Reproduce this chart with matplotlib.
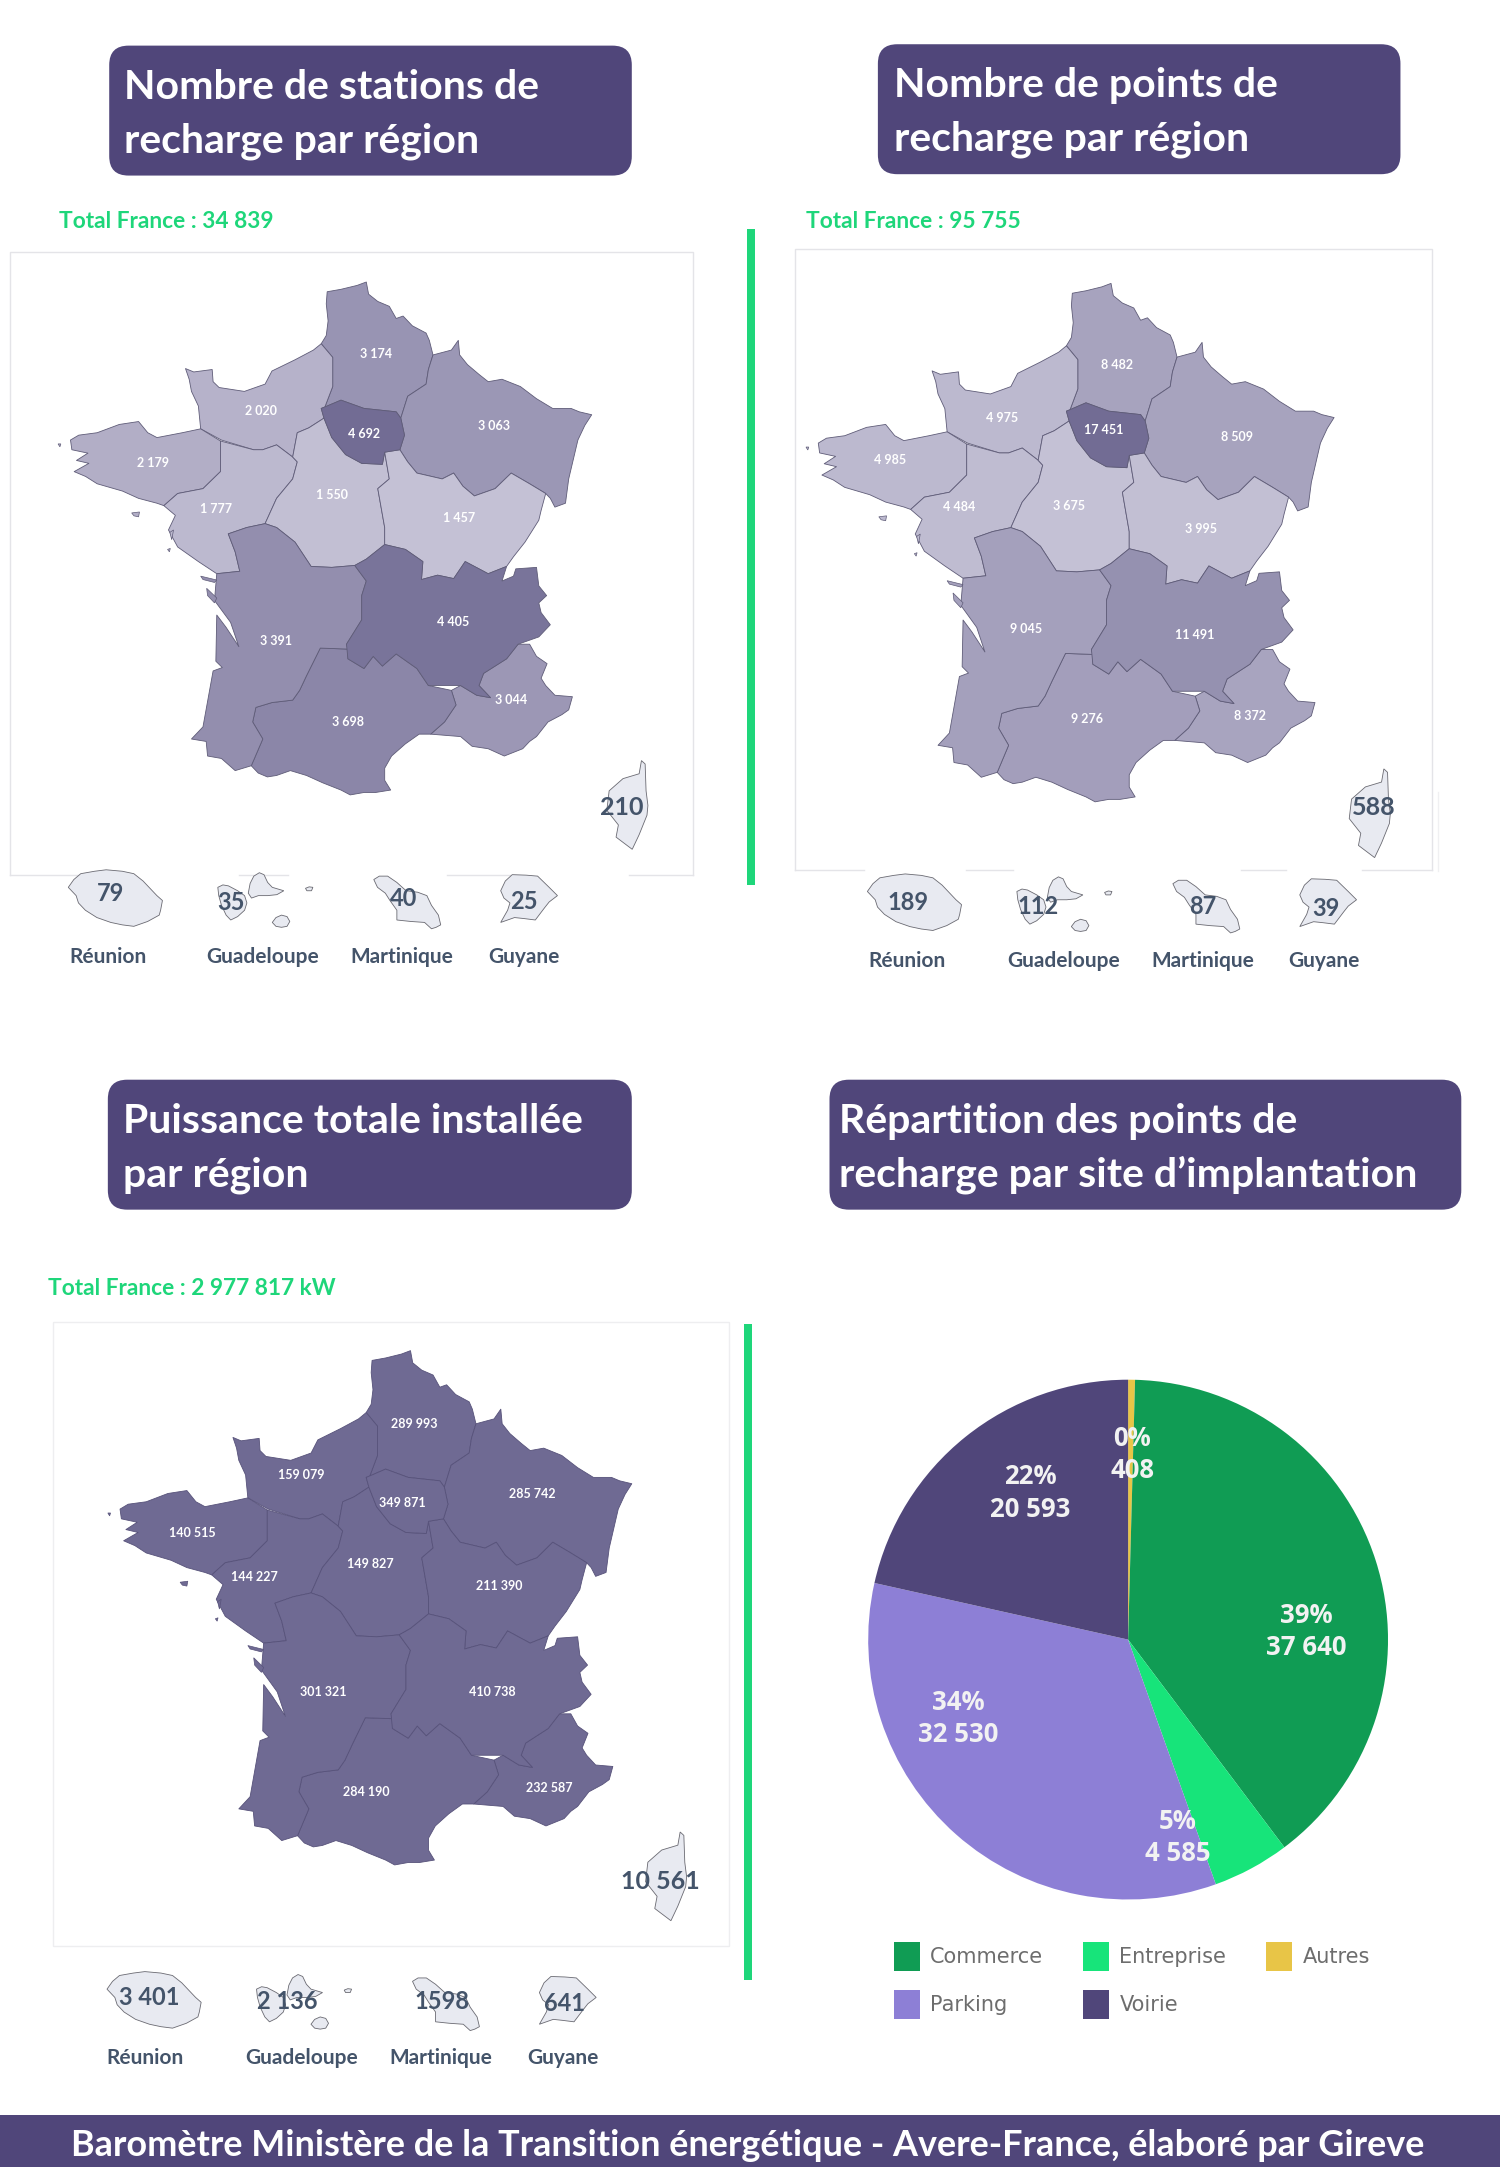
import numpy as np
import matplotlib
matplotlib.use('Agg')
import matplotlib.pyplot as plt
from matplotlib.patches import FancyBboxPatch, Polygon, Rectangle

plt.rcParams['font.family'] = ['Lato', 'DejaVu Sans']

#region outlines (tracing units, same for the three maps)
hauts = [(795,85),(775,92),(740,100),(710,105),(708,130),(712,165),(708,195),(697,212),(722,240),(722,300),(705,342),(740,328),(790,345),(860,352),(870,365),(885,320),(925,295),(930,265),(940,235),(932,205),(925,190),(895,175),(875,155),(860,160),(845,135),(820,125),(800,110)]
grand_est = [(940,235),(930,265),(925,295),(885,320),(870,365),(878,400),(868,430),(885,455),(905,478),(960,490),(985,478),(1005,505),(1030,525),(1075,510),(1110,478),(1150,500),(1185,520),(1195,530),(1205,548),(1228,540),(1235,490),(1245,450),(1255,410),(1270,380),(1285,358),(1258,352),(1240,345),(1200,345),(1165,325),(1130,300),(1090,285),(1060,290),(1040,275),(1015,255),(998,235),(995,205),(980,225)]
idf = [(697,345),(705,342),(740,328),(790,345),(860,352),(870,365),(878,400),(868,430),(835,435),(830,460),(785,458),(750,440),(720,405),(703,365)]
normandie = [(402,263),(420,270),(460,265),(462,290),(475,302),(530,310),(575,295),(590,268),(640,245),(680,225),(697,212),(722,240),(722,300),(705,342),(697,345),(703,365),(670,385),(645,395),(635,445),(600,420),(570,430),(550,430),(480,410),(435,387),(430,340),(415,310),(410,285)]
bretagne = [(152,410),(170,400),(210,395),(258,378),(300,372),(320,395),(340,405),(395,395),(435,387),(478,412),(478,475),(440,510),(385,520),(355,545),(340,540),(300,530),(265,515),(210,500),(185,485),(160,475),(192,458),(165,452),(190,437),(155,430)]
loire = [(355,545),(385,520),(440,510),(478,475),(478,412),(550,430),(570,430),(600,420),(635,445),(645,455),(635,490),(600,530),(575,582),(535,590),(495,603),(510,640),(520,680),(470,685),(430,660),(385,630),(365,595),(380,565)]
centre = [(645,395),(670,385),(703,365),(720,405),(750,440),(785,458),(830,460),(835,435),(845,490),(820,510),(835,590),(835,625),(795,655),(770,668),(720,672),(675,670),(640,620),(600,590),(575,582),(600,530),(635,490),(645,455),(635,445)]
bourgogne = [(835,435),(868,430),(885,455),(905,478),(960,490),(985,478),(1005,505),(1030,525),(1075,510),(1110,478),(1150,500),(1185,520),(1175,555),(1170,575),(1140,620),(1115,650),(1100,670),(1060,685),(1010,660),(985,695),(950,688),(915,697),(918,660),(880,635),(835,625),(835,590),(820,510),(845,490)]
ara = [(770,668),(795,655),(835,625),(880,635),(918,660),(915,697),(950,688),(985,695),(1010,660),(1060,685),(1100,670),(1090,700),(1115,690),(1120,675),(1165,672),(1170,710),(1187,730),(1170,745),(1175,765),(1195,790),(1170,815),(1125,830),(1100,860),(1050,890),(1040,915),(1065,940),(1035,935),(1000,915),(930,915),(905,880),(860,850),(830,875),(810,855),(790,880),(755,860),(752,830),(785,780),(785,730),(795,700)]
paca = [(1125,830),(1150,830),(1165,855),(1188,870),(1175,900),(1185,915),(1205,935),(1243,938),(1235,965),(1220,975),(1190,990),(1165,1020),(1150,1030),(1135,1045),(1095,1060),(1060,1045),(1025,1040),(1000,1020),(935,1015),(965,990),(990,955),(980,925),(1000,915),(1035,935),(1065,940),(1040,915),(1050,890),(1100,860)]
occitanie = [(695,838),(755,840),(755,860),(790,880),(810,855),(830,875),(860,850),(905,880),(930,915),(980,925),(990,955),(965,990),(935,1015),(910,1015),(880,1035),(850,1060),(835,1085),(835,1110),(848,1130),(815,1135),(790,1135),(760,1140),(740,1130),(700,1115),(665,1100),(630,1090),(600,1100),(580,1103),(560,1095),(545,1080),(570,1025),(548,990),(555,960),(590,950),(635,945),(650,925),(665,895)]
aquitaine = [(495,603),(535,590),(575,582),(600,590),(640,620),(675,670),(720,672),(770,668),(795,700),(785,730),(785,780),(752,830),(755,840),(695,838),(665,895),(650,925),(635,945),(590,950),(555,960),(548,990),(570,1025),(545,1080),(510,1090),(480,1065),(450,1060),(447,1030),(415,1025),(440,1000),(462,885),(482,878),(468,865),(470,770),(490,795),(518,835),(500,785),(465,740),(470,685),(520,680),(510,640)]
regions = [hauts, grand_est, normandie, bretagne, loire, centre, bourgogne, paca, occitanie, aquitaine, ara, idf]

# small islands, with the index of their region in regions
iles = [
    (3, [(125,418),(131,418),(129,424)]),
    (3, [(285,560),(302,558),(300,568),(290,566)]),
    (4, [(368,600),(376,595),(372,615)]),
    (4, [(363,635),(369,633),(367,640)]),
    (9, [(435,690),(470,698),(465,703),(440,697)]),
    (9, [(448,715),(470,735),(465,745),(450,730)]),
]

corse = [(1390,1068),(1398,1075),(1400,1130),(1404,1160),(1402,1180),(1385,1220),(1370,1250),(1335,1225),(1340,1200),(1315,1170),(1320,1130),(1350,1105),(1385,1095)]
reunion = [(148,1328),(160,1312),(175,1300),(205,1295),(230,1292),(265,1295),(290,1300),(310,1315),(320,1325),(340,1345),(352,1355),(348,1375),(345,1385),(320,1398),(290,1408),(265,1405),(240,1400),(210,1390),(185,1375),(170,1360),(165,1345)]
guadeloupe = [
    [(472,1328),(483,1323),(495,1325),(515,1335),(530,1345),(535,1360),(530,1375),(515,1388),(500,1395),(490,1385),(480,1365),(474,1345)],
    [(538,1340),(542,1320),(550,1305),(562,1298),(572,1302),(580,1318),(590,1328),(615,1335),(600,1343),(580,1345),(560,1345),(545,1350)],
    [(590,1400),(598,1390),(610,1385),(622,1388),(628,1398),(622,1408),(610,1410),(598,1408)],
    [(662,1330),(670,1327),(678,1328),(675,1335),(665,1335)],
]
martinique = [(810,1312),(822,1305),(840,1305),(860,1318),(880,1335),(905,1338),(925,1345),(935,1365),(950,1385),(955,1405),(945,1410),(935,1413),(920,1400),(890,1398),(860,1395),(860,1375),(845,1355),(835,1340),(818,1328)]
guyane = [(1085,1335),(1095,1315),(1110,1302),(1140,1303),(1165,1305),(1190,1328),(1208,1345),(1190,1358),(1180,1370),(1160,1395),(1135,1392),(1115,1390),(1085,1400),(1100,1375),(1105,1360),(1092,1350)]
overseas = [[reunion], guadeloupe, [martinique], [guyane]]

# values, same order as regions
stations = [3174, 3063, 2020, 2179, 1777, 1550, 1457, 3044, 3698, 3391, 4405, 4692]
points = [8482, 8509, 4975, 4985, 4484, 3675, 3995, 8372, 9276, 9045, 11491, 17451]
puissance = [289993, 285742, 159079, 140515, 144227, 149827, 211390, 232587, 284190, 301321, 410738, 349871]

outre_names = ['Réunion', 'Guadeloupe', 'Martinique', 'Guyane']
stations_outre = ['79', '35', '40', '25']
points_outre = ['189', '112', '87', '39']
puissance_outre = ['3 401', '2 136', '1598', '641']

pie_labels = ['Autres', 'Commerce', 'Entreprise', 'Parking', 'Voirie']
pie_values = [408, 37640, 4585, 32530, 20593]
pie_pct = ['0%', '39%', '5%', '34%', '22%']
pie_colors = ['#e8c547', '#109c54', '#17e47a', '#8d7fd6', '#50467a']

# label anchors, in preview pixels (1085 wide)
pos1 = [(272,256),(357,308),(189,297),(111,335),(156,368),(240,358),(332,375),(370,506),(252,522),(200,464),(328,450),(263,314)]
pos2 = [(808,264),(895,316),(725,302),(644,333),(694,367),(773,366),(869,383),(904,518),(786,520),(742,455),(864,459),(798,311)]
pos3 = [(300,1030),(385,1081),(218,1067),(139,1109),(184,1141),(268,1131),(361,1147),(397,1293),(265,1296),(234,1224),(356,1224),(291,1087)]
pie_pos = [(819,1052),(945,1180),(852,1329),(693,1243),(745,1080)]

PURPLE = '#50467a'
GREEN = '#1ed67a'
SLATE = '#44546a'
LOW = np.array([0xc4, 0xc1, 0xd5]) / 255
HIGH = np.array([0x72, 0x6c, 0x94]) / 255


def fmt(v):
    return f'{v:,}'.replace(',', ' ')


def shade(vals):
    vals = np.array(vals, dtype=float)
    t = (vals - vals.min()) / (vals.max() - vals.min())
    return [LOW + (HIGH - LOW) * a for a in t]


fig = plt.figure(figsize=(15, 21.67), dpi=100)
ax = fig.add_axes([0, 0, 1, 1])
ax.set_xlim(0, 1085)
ax.set_ylim(1567.5, 0)
ax.axis('off')


def title_box(x0, y0, x1, y1, lines, tx):
    r = 14
    ax.add_patch(FancyBboxPatch((x0 + r, y0 + r), x1 - x0 - 2 * r, y1 - y0 - 2 * r,
                                boxstyle=f'round,pad={r},rounding_size={r}', fc=PURPLE, ec='none'))
    ax.text(tx, y0 + 30, lines[0], color='white', fontsize=29.5, fontweight='bold', va='center')
    ax.text(tx, y0 + 69, lines[1], color='white', fontsize=29.5, fontweight='bold', va='center')


def draw_map(bbox, colors, edge, labels, pos, lab_size, lab_weight):
    x0, x1, y0, y1 = bbox
    sx = (x1 - x0) / 1160
    sy = (y1 - y0) / 1055

    def place(poly):
        p = np.array(poly, dtype=float)
        return np.column_stack((x0 + (p[:, 0] - 125) * sx, y0 + (p[:, 1] - 85) * sy))

    for reg, c in zip(regions, colors):
        ax.add_patch(Polygon(place(reg), closed=True, fc=c, ec=edge, lw=0.6, joinstyle='round'))
    for i, ile in iles:
        ax.add_patch(Polygon(place(ile), closed=True, fc=colors[i], ec=edge, lw=0.5))
    for lab, (x, y) in zip(labels, pos):
        ax.text(x, y, lab, color='white', fontsize=lab_size, fontweight=lab_weight, ha='center', va='center')


def draw_blob(poly, ox, oy):
    p = np.array(poly, dtype=float)
    p = np.column_stack((ox + p[:, 0] * 0.3338, oy + p[:, 1] * 0.3526))
    ax.add_patch(Polygon(p, closed=True, fc='#e8eaf1', ec='#6a6a72', lw=0.6, zorder=3))


def draw_outre(corse_off, off, corse_lab, corse_pos, vals, val_xs, name_y, val_y, name_xs):
    draw_blob(corse, *corse_off)
    ax.text(*corse_pos, corse_lab, color=SLATE, fontsize=18, fontweight='bold', ha='center', va='center', zorder=4)
    for parts in overseas:
        for part in parts:
            draw_blob(part, *off)
    for name, val, vx, vy, nx in zip(outre_names, vals, val_xs, val_y, name_xs):
        ax.text(vx, vy, val, color=SLATE, fontsize=17, fontweight='bold', ha='center', va='center', zorder=4)
        ax.text(nx, name_y, name, color=SLATE, fontsize=15, fontweight='bold', ha='center', va='center')


# titles
title_box(79, 33, 457, 127, ['Nombre de stations de', 'recharge par région'], 90)
title_box(635, 32, 1013, 126, ['Nombre de points de', 'recharge par région'], 647)
title_box(78, 781, 457, 875, ['Puissance totale installée', 'par région'], 89)
title_box(600, 781, 1057, 875, ['Répartition des points de', 'recharge par site d’implantation'], 607)

# totals
ax.text(43, 160, 'Total France : 34 839', color=GREEN, fontsize=16.4, fontweight='bold', va='center')
ax.text(583, 160, 'Total France : 95 755', color=GREEN, fontsize=16.4, fontweight='bold', va='center')
ax.text(35, 932, 'Total France : 2 977 817 kW', color=GREEN, fontsize=16.4, fontweight='bold', va='center')

# separators
ax.add_patch(Rectangle((540, 166), 6, 474, fc=GREEN, ec='none'))
ax.add_patch(Rectangle((538, 958), 6, 474, fc=GREEN, ec='none'))

# panel frames
frame = '#e4e4e8'
ax.plot([7, 7, 501, 501], [633, 182, 182, 633], color=frame, lw=1)
for a, b in [(7, 62), (173, 208), (323, 369), (455, 501)]:
    ax.plot([a, b], [633, 633], color=frame, lw=1)
ax.plot([575, 575, 1036, 1036], [629, 180, 180, 629], color=frame, lw=1)
for a, b in [(575, 625), (699, 733), (898, 930), (985, 1036)]:
    ax.plot([a, b], [629, 629], color=frame, lw=1)
ax.plot([1040, 1040], [573, 630], color='#f0f0f2', lw=1)
ax.add_patch(Rectangle((38, 956), 489, 452, fc='none', ec='#eeeef0', lw=1))

# maps
draw_map((42, 428, 204, 575), shade(stations), '#5f5c78', [fmt(v) for v in stations], pos1, 9, 'bold')
draw_map((583, 965, 205, 580), shade(points), '#5f5c78', [fmt(v) for v in points], pos2, 9, 'bold')
draw_map((78, 457, 977, 1349), ['#6f6a93'] * 12, '#57527a', [fmt(v) for v in puissance], pos3, 9, 'bold')

draw_outre((0, 173.6), (0, 173.6), '210', (450, 584), stations_outre, [80, 167, 292, 379],
           692, [646, 653, 650, 652], [78, 190, 291, 379])
draw_outre((537, 179.6), (578, 176.6), '588', (994, 584), points_outre, [657, 751, 870, 959],
           695, [653, 656, 656, 657], [656, 769, 870, 958])
draw_outre((28, 948.6), (28, 970.6), '10 561', (478, 1361), puissance_outre, [108, 208, 320, 408],
           1489, [1445, 1448, 1448, 1449], [105, 218, 319, 407])

# footer
ax.add_patch(Rectangle((0, 1530), 1085, 38, fc=PURPLE, ec='none'))
ax.text(541, 1552, 'Baromètre Ministère de la Transition énergétique - Avere-France, élaboré par Gireve',
        color='white', fontsize=25.9, fontweight='bold', ha='center', va='center')

# pie
R = 188
cx, cy = 816, 1186
ax_pie = fig.add_axes([(cx - R) / 1085, 1 - (cy + R) / 1567.5, 2 * R / 1085, 2 * R / 1567.5])
wedges, _ = ax_pie.pie(pie_values, colors=pie_colors, startangle=90, counterclock=False, radius=1)
ax_pie.set_xlim(-1, 1)
ax_pie.set_ylim(-1, 1)

ax_top = fig.add_axes([0, 0, 1, 1], facecolor='none')
ax_top.set_xlim(0, 1085)
ax_top.set_ylim(1567.5, 0)
ax_top.axis('off')
for pct, val, (x, y) in zip(pie_pct, pie_values, pie_pos):
    ax_top.text(x, y, f'{pct}\n{fmt(val)}', color='#f2f2f2', fontsize=18.5, fontweight='bold',
                ha='center', va='center', linespacing=1.25, family=['Open Sans', 'DejaVu Sans'])

order = [1, 3, 2, 4, 0]
leg = ax_top.legend([wedges[i] for i in order], [pie_labels[i] for i in order], ncol=3,
                    loc='upper left', bbox_to_anchor=(633, 1391), bbox_transform=ax_top.transData,
                    frameon=False, handlelength=1.25, handleheight=1.75, handletextpad=0.5,
                    columnspacing=1.9, labelspacing=0.93, prop={'family': 'DejaVu Sans', 'size': 15})
for t in leg.get_texts():
    t.set_color('#6d6d6d')

fig.savefig('out.png', dpi=100, facecolor='white')
